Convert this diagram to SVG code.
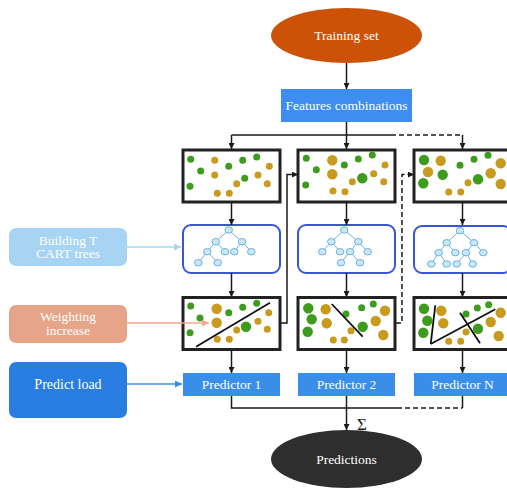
<svg xmlns="http://www.w3.org/2000/svg" width="507" height="490" viewBox="0 0 507 490">
<defs>
<style>
.t{font-family:"Liberation Serif","Times New Roman",serif;fill:#fff;text-anchor:middle}
.box{fill:#fff;stroke:#222;stroke-width:3}
.tree{fill:#fff;stroke:#3a55d8;stroke-width:2}
.g{fill:#3d9b1e}
.o{fill:#c89a1e}
.n{fill:#c9e8fb;stroke:#6fb0e2;stroke-width:1}
.e{stroke:#6fb0e2;stroke-width:1;fill:none}
.c{stroke:#1a1a1a;stroke-width:1.5;fill:none}
.d{stroke:#1a1a1a;stroke-width:1.5;fill:none;stroke-dasharray:5,3}
.cut{stroke:#111;stroke-width:1.8}
</style>
<marker id="a" viewBox="0 0 10 10" refX="10" refY="5" markerWidth="6" markerHeight="6" orient="auto" markerUnits="userSpaceOnUse"><path d="M0,0L10,5L0,10z" fill="#1a1a1a"/></marker>
<marker id="ab" viewBox="0 0 10 10" refX="10" refY="5" markerWidth="7" markerHeight="7" orient="auto" markerUnits="userSpaceOnUse"><path d="M0,0L10,5L0,10z" fill="#a6d4f2"/></marker>
<marker id="as" viewBox="0 0 10 10" refX="10" refY="5" markerWidth="7" markerHeight="7" orient="auto" markerUnits="userSpaceOnUse"><path d="M0,0L10,5L0,10z" fill="#f0a88e"/></marker>
<marker id="ap" viewBox="0 0 10 10" refX="10" refY="5" markerWidth="7" markerHeight="7" orient="auto" markerUnits="userSpaceOnUse"><path d="M0,0L10,5L0,10z" fill="#3a8ee8"/></marker>
</defs>

<g id="training-set">
<ellipse cx="346.5" cy="35.5" rx="75.5" ry="27.5" fill="#cc5208"/>
<text class="t" x="346.5" y="40" font-size="13.5">Training set</text>
</g>

<g id="features">
<rect x="281" y="89" width="131" height="33" fill="#3d8ef0"/>
<text class="t" x="346.5" y="110" font-size="13.5">Features combinations</text>
</g>

<g id="data1">
<rect class="box" x="183" y="150" width="97" height="52"/>
<circle class="g" cx="190.7" cy="159.3" r="3.5"/><circle class="g" cx="200.7" cy="171" r="3.5"/><circle class="g" cx="228.7" cy="166.3" r="3.5"/><circle class="g" cx="242.7" cy="160.3" r="3.5"/><circle class="g" cx="256.7" cy="157" r="3.5"/><circle class="g" cx="244.7" cy="178.3" r="3.5"/><circle class="g" cx="190" cy="186.3" r="3.5"/>
<circle class="o" cx="214.7" cy="160.3" r="3.5"/><circle class="o" cx="214.7" cy="175" r="3.5"/><circle class="o" cx="269.3" cy="166.3" r="3.5"/><circle class="o" cx="258" cy="175" r="3.5"/><circle class="o" cx="236.7" cy="183.7" r="3.5"/><circle class="o" cx="267.3" cy="183.7" r="3.5"/><circle class="o" cx="217.3" cy="193.3" r="3.5"/><circle class="o" cx="229.3" cy="193.3" r="3.5"/>
</g>

<g id="data2">
<rect class="box" x="298" y="150" width="97" height="52"/>
<circle class="g" cx="306.3" cy="158.3" r="3.5"/><circle class="g" cx="316.3" cy="169.7" r="3.5"/><circle class="g" cx="344.3" cy="165" r="3.5"/><circle class="g" cx="358.3" cy="159" r="3.5"/><circle class="g" cx="372.3" cy="155" r="3.5"/><circle class="g" cx="362.3" cy="178.3" r="5.2"/><circle class="g" cx="305.7" cy="185" r="3.5"/>
<circle class="o" cx="332.3" cy="160.3" r="5.2"/><circle class="o" cx="332.3" cy="174.3" r="5.2"/><circle class="o" cx="385" cy="165" r="3.5"/><circle class="o" cx="373.7" cy="173.7" r="3.5"/><circle class="o" cx="352.3" cy="181.7" r="3.5"/><circle class="o" cx="383.7" cy="181.7" r="3.5"/><circle class="o" cx="333" cy="191" r="3.5"/><circle class="o" cx="345" cy="191.7" r="3.5"/>
</g>

<g id="data3">
<rect class="box" x="414" y="150" width="97" height="52"/>
<circle class="g" cx="424" cy="160" r="5.2"/><circle class="g" cx="460" cy="165.3" r="3.5"/><circle class="g" cx="474" cy="159.3" r="3.5"/><circle class="g" cx="488" cy="155.3" r="3.5"/><circle class="g" cx="442.7" cy="174.7" r="5.2"/><circle class="g" cx="423.3" cy="183.3" r="5.2"/><circle class="g" cx="478" cy="179.3" r="5.2"/>
<circle class="o" cx="440.7" cy="160.7" r="5.2"/><circle class="o" cx="428" cy="172" r="5.2"/><circle class="o" cx="500.7" cy="163.3" r="5.2"/><circle class="o" cx="490.7" cy="173.3" r="5.2"/><circle class="o" cx="468" cy="182.7" r="3.5"/><circle class="o" cx="500.7" cy="184" r="5.2"/><circle class="o" cx="448.7" cy="192" r="3.5"/><circle class="o" cx="460.7" cy="192" r="3.5"/>
</g>

<g id="tree1">
<rect class="tree" x="183" y="225" width="97" height="48" rx="8"/>
<path class="e" d="M228.7,230L215.7,241.7L207.3,251.7L198.3,262.7M207.3,251.7L217.7,262.7M215.7,241.7L225,251.7M228.7,230L242,241.7L234.3,251.7M242,241.7L251.3,251.7"/>
<ellipse class="n" cx="228.7" cy="230" rx="3.8" ry="3.2"/><ellipse class="n" cx="215.7" cy="241.7" rx="3.8" ry="3.2"/><ellipse class="n" cx="242" cy="241.7" rx="3.8" ry="3.2"/><ellipse class="n" cx="207.3" cy="251.7" rx="3.8" ry="3.2"/><ellipse class="n" cx="225" cy="251.7" rx="3.8" ry="3.2"/><ellipse class="n" cx="234.3" cy="251.7" rx="3.8" ry="3.2"/><ellipse class="n" cx="251.3" cy="251.7" rx="3.8" ry="3.2"/><ellipse class="n" cx="198.3" cy="262.7" rx="3.8" ry="3.2"/><ellipse class="n" cx="217.7" cy="262.7" rx="3.8" ry="3.2"/>
</g>

<g id="tree2">
<rect class="tree" x="298" y="225" width="97" height="48" rx="8"/>
<path class="e" d="M344.3,230L331.3,241.7L322.3,251.7M331.3,241.7L340,251.7M344.3,230L358.3,241.7L350,251.7L341,262.7M350,251.7L360,262.7M358.3,241.7L367.7,251.7"/>
<ellipse class="n" cx="344.3" cy="230" rx="3.8" ry="3.2"/><ellipse class="n" cx="331.3" cy="241.7" rx="3.8" ry="3.2"/><ellipse class="n" cx="358.3" cy="241.7" rx="3.8" ry="3.2"/><ellipse class="n" cx="322.3" cy="251.7" rx="3.8" ry="3.2"/><ellipse class="n" cx="340" cy="251.7" rx="3.8" ry="3.2"/><ellipse class="n" cx="350" cy="251.7" rx="3.8" ry="3.2"/><ellipse class="n" cx="367.7" cy="251.7" rx="3.8" ry="3.2"/><ellipse class="n" cx="341" cy="262.7" rx="3.8" ry="3.2"/><ellipse class="n" cx="360" cy="262.7" rx="3.8" ry="3.2"/>
</g>

<g id="tree3">
<rect class="tree" x="414" y="226" width="97" height="47" rx="8"/>
<path class="e" d="M460,230.7L446.7,242.7L438.7,252.7L431.3,264M438.7,252.7L446.7,264M446.7,242.7L455.3,252.7M460,230.7L474,242.7L466,252.7L456.7,264M466,252.7L472.7,264M474,242.7L483.3,252.7"/>
<ellipse class="n" cx="460" cy="230.7" rx="3.8" ry="3.2"/><ellipse class="n" cx="446.7" cy="242.7" rx="3.8" ry="3.2"/><ellipse class="n" cx="474" cy="242.7" rx="3.8" ry="3.2"/><ellipse class="n" cx="438.7" cy="252.7" rx="3.8" ry="3.2"/><ellipse class="n" cx="455.3" cy="252.7" rx="3.8" ry="3.2"/><ellipse class="n" cx="466" cy="252.7" rx="3.8" ry="3.2"/><ellipse class="n" cx="483.3" cy="252.7" rx="3.8" ry="3.2"/><ellipse class="n" cx="431.3" cy="264" rx="3.8" ry="3.2"/><ellipse class="n" cx="446.7" cy="264" rx="3.8" ry="3.2"/><ellipse class="n" cx="456.7" cy="264" rx="3.8" ry="3.2"/><ellipse class="n" cx="472.7" cy="264" rx="3.8" ry="3.2"/>
</g>

<g id="weighted1">
<rect class="box" x="183" y="297.5" width="97" height="52"/>
<circle class="g" cx="190.7" cy="306" r="3.5"/><circle class="g" cx="200" cy="318" r="3.5"/><circle class="g" cx="228.7" cy="312.7" r="3.5"/><circle class="g" cx="242.7" cy="307.3" r="3.5"/><circle class="g" cx="256.7" cy="303.3" r="3.5"/><circle class="g" cx="246" cy="326.7" r="5.2"/><circle class="g" cx="190" cy="332.7" r="3.5"/>
<circle class="o" cx="216.7" cy="308.7" r="5.2"/><circle class="o" cx="216.7" cy="322.7" r="5.2"/><circle class="o" cx="268.7" cy="312.7" r="3.5"/><circle class="o" cx="258" cy="321.3" r="3.5"/><circle class="o" cx="236.7" cy="330" r="3.5"/><circle class="o" cx="267.3" cy="329.3" r="3.5"/><circle class="o" cx="217.3" cy="339.3" r="3.5"/><circle class="o" cx="229.3" cy="339.3" r="3.5"/>
<line class="cut" x1="196" y1="346.7" x2="270" y2="302.7"/>
</g>

<g id="weighted2">
<rect class="box" x="298" y="297.5" width="97" height="52"/>
<circle class="g" cx="308.3" cy="308.3" r="5.2"/><circle class="g" cx="311.7" cy="319.3" r="5.2"/><circle class="g" cx="307.7" cy="331.7" r="5.2"/><circle class="g" cx="346" cy="314" r="3.5"/><circle class="g" cx="361.7" cy="307.7" r="3.5"/><circle class="g" cx="373.3" cy="304" r="3.5"/><circle class="g" cx="362.7" cy="326.7" r="5.2"/>
<circle class="o" cx="325.7" cy="309.3" r="5.2"/><circle class="o" cx="326.7" cy="323.3" r="5.2"/><circle class="o" cx="385" cy="310.7" r="5.2"/><circle class="o" cx="375.7" cy="321" r="5.2"/><circle class="o" cx="351" cy="330.7" r="3.5"/><circle class="o" cx="383.3" cy="335" r="5.2"/><circle class="o" cx="333.3" cy="340" r="3.5"/><circle class="o" cx="344.3" cy="340" r="3.5"/>
<line class="cut" x1="331.7" y1="304" x2="362.7" y2="336.7"/>
</g>

<g id="weighted3">
<rect class="box" x="414" y="297.5" width="97" height="52"/>
<circle class="g" cx="424" cy="308.7" r="5.2"/><circle class="g" cx="427.3" cy="320.7" r="5.2"/><circle class="g" cx="423.3" cy="332.7" r="5.2"/><circle class="g" cx="466" cy="314" r="3.5"/><circle class="g" cx="477.3" cy="308" r="3.5"/><circle class="g" cx="488.7" cy="304.7" r="3.5"/><circle class="g" cx="478" cy="328.7" r="5.2"/>
<circle class="o" cx="441.3" cy="310.7" r="5.2"/><circle class="o" cx="443.3" cy="323.3" r="5.2"/><circle class="o" cx="500.7" cy="312.7" r="5.2"/><circle class="o" cx="490.7" cy="322" r="5.2"/><circle class="o" cx="466" cy="332" r="3.5"/><circle class="o" cx="498.7" cy="336" r="5.2"/><circle class="o" cx="448.7" cy="341.3" r="3.5"/><circle class="o" cx="460.7" cy="341.3" r="3.5"/>
<line class="cut" x1="435.3" y1="305.3" x2="430.7" y2="344"/>
<line class="cut" x1="430.7" y1="344" x2="495.3" y2="309.3"/>
<line class="cut" x1="460" y1="312.7" x2="480" y2="343.3"/>
</g>

<g id="predictor1">
<rect x="183" y="373" width="97" height="23" fill="#3a8ee8"/>
<text class="t" x="231.5" y="389" font-size="13.5">Predictor 1</text>
</g>
<g id="predictor2">
<rect x="298" y="373" width="97" height="23" fill="#3a8ee8"/>
<text class="t" x="346.5" y="389" font-size="13.5">Predictor 2</text>
</g>
<g id="predictorN">
<rect x="414" y="373" width="97" height="23" fill="#3a8ee8"/>
<text class="t" x="462.5" y="389" font-size="13.5">Predictor N</text>
</g>

<g id="building">
<rect x="9" y="228" width="118" height="38" rx="7" fill="#a6d4f2"/>
<text class="t" x="68" y="244.5" font-size="13.5">Building T</text>
<text class="t" x="68" y="258" font-size="13.5">CART trees</text>
</g>
<g id="weighting">
<rect x="9" y="305" width="118" height="38" rx="7" fill="#e6a588"/>
<text class="t" x="68" y="321" font-size="13.5">Weighting</text>
<text class="t" x="68" y="335" font-size="13.5">increase</text>
</g>
<g id="predict-load">
<rect x="9" y="362" width="118" height="56" rx="7" fill="#2a7de0"/>
<text class="t" x="68" y="389" font-size="14">Predict load</text>
</g>

<g id="predictions">
<ellipse cx="346.5" cy="459" rx="75.5" ry="29" fill="#2e2e2e"/>
<text class="t" x="346.5" y="464" font-size="13.5">Predictions</text>
</g>

<g id="connectors">
<line class="c" x1="346.5" y1="63" x2="346.5" y2="89" marker-end="url(#a)"/>
<line class="c" x1="346.5" y1="122" x2="346.5" y2="149" marker-end="url(#a)"/>
<line class="c" x1="231.5" y1="135" x2="391" y2="135"/>
<line class="c" x1="231.5" y1="135" x2="231.5" y2="149" marker-end="url(#a)"/>
<line class="d" x1="391" y1="135" x2="462.5" y2="135"/>
<line class="c" x1="462.5" y1="135" x2="462.5" y2="149" marker-end="url(#a)"/>
<line class="c" x1="231.5" y1="202" x2="231.5" y2="225" marker-end="url(#a)"/>
<line class="c" x1="346.5" y1="202" x2="346.5" y2="225" marker-end="url(#a)"/>
<line class="c" x1="462.5" y1="202" x2="462.5" y2="225" marker-end="url(#a)"/>
<line class="c" x1="231.5" y1="273" x2="231.5" y2="297" marker-end="url(#a)"/>
<line class="c" x1="346.5" y1="273" x2="346.5" y2="297" marker-end="url(#a)"/>
<line class="c" x1="462.5" y1="273" x2="462.5" y2="297" marker-end="url(#a)"/>
<line class="c" x1="231.5" y1="350" x2="231.5" y2="373" marker-end="url(#a)"/>
<line class="c" x1="346.5" y1="350" x2="346.5" y2="373" marker-end="url(#a)"/>
<line class="c" x1="462.5" y1="350" x2="462.5" y2="373" marker-end="url(#a)"/>
<polyline class="c" points="281,323 287,323 287,174.5 298,174.5" marker-end="url(#a)"/>
<polyline class="d" points="396,323 402,323 402,174.5 414,174.5" marker-end="url(#a)"/>
<polyline class="c" points="231.5,396 231.5,408 397,408"/>
<line class="c" x1="346.5" y1="396" x2="346.5" y2="408"/>
<line class="d" x1="397" y1="408" x2="462.5" y2="408"/>
<line class="c" x1="462.5" y1="396" x2="462.5" y2="408"/>
<line class="c" x1="346.5" y1="408" x2="346.5" y2="430" marker-end="url(#a)"/>
<line stroke="#a6d4f2" stroke-width="1.5" x1="127" y1="247" x2="181" y2="247" marker-end="url(#ab)"/>
<line stroke="#f0a88e" stroke-width="1.5" x1="127" y1="323" x2="209" y2="323" marker-end="url(#as)"/>
<line stroke="#3a8ee8" stroke-width="1.5" x1="127" y1="384" x2="182" y2="384" marker-end="url(#ap)"/>
<text x="362" y="430" font-family="Liberation Serif, Times New Roman, serif" font-size="17" fill="#222" text-anchor="middle">Σ</text>
</g>
</svg>
